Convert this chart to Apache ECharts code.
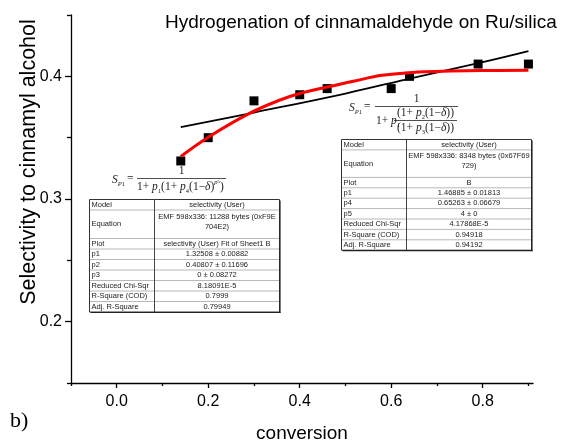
<!DOCTYPE html>
<html>
<head>
<meta charset="utf-8">
<script src="https://cdn.jsdelivr.net/npm/echarts@6/dist/echarts.min.js"></script>
<style>
  html, body { margin: 0; padding: 0; background: #fff; }
  #chart { width: 563px; height: 440px; }
</style>
</head>
<body>
<div id="chart"></div>
<script>
  // measured points
  const conversion = [0.14, 0.20, 0.30, 0.40, 0.46, 0.60, 0.64, 0.79, 0.90]
  const selectivity = [0.331, 0.350, 0.380, 0.385, 0.390, 0.390, 0.400, 0.410, 0.410]

  // red fit curve
  const redFitX = [0.14, 0.20, 0.29, 0.36, 0.40, 0.46, 0.52, 0.58, 0.66, 0.73, 0.80, 0.90]
  const redFitY = [0.3347, 0.3504, 0.3698, 0.3811, 0.3860, 0.3913, 0.3962, 0.4008, 0.4035, 0.4043, 0.4047, 0.4050]

  // black fit curve
  const blackFitX = [0.14, 0.30, 0.50, 0.65, 0.80, 0.90]
  const blackFitY = [0.3585, 0.3705, 0.3860, 0.3990, 0.4115, 0.4205]

  // ticks
  const xMajorTicks = [0, 0.2, 0.4, 0.6, 0.8]
  const xMinorTicks = [-0.1, 0.1, 0.3, 0.5, 0.7, 0.9]
  const yMajorTicks = [0.2, 0.3, 0.4]
  const yMinorTicks = [0.15, 0.25, 0.35, 0.45]

  // fit report tables
  const leftTableRows = [
    ['Model', 'selectivity (User)'],
    ['Equation', 'EMF 598x336: 11288 bytes (0xF9E\n704E2)'],
    ['Plot', 'selectivity (User) Fit of Sheet1 B'],
    ['p1', '1.32508 ± 0.00882'],
    ['p2', '0.40807 ± 0.11696'],
    ['p3', '0 ± 0.08272'],
    ['Reduced Chi-Sqr', '8.18091E-5'],
    ['R-Square (COD)', '0.7999'],
    ['Adj. R-Square', '0.79949']
  ]
  const rightTableRows = [
    ['Model', 'selectivity (User)'],
    ['Equation', 'EMF 598x336: 8348 bytes (0x67F69\n729)'],
    ['Plot', 'B'],
    ['p1', '1.46885 ± 0.01813'],
    ['p4', '0.65263 ± 0.06679'],
    ['p5', '4 ± 0'],
    ['Reduced Chi-Sqr', '4.17868E-5'],
    ['R-Square (COD)', '0.94918'],
    ['Adj. R-Square', '0.94192']
  ]

  const SANS = '"Liberation Sans", Arial, sans-serif'
  const SERIF = '"Liberation Serif", "Times New Roman", serif'

  function txt(x, y, text, font, align, vAlign, color, extra) {
    return Object.assign({
      type: 'text', x: x, y: y, silent: true,
      style: {
        text: text, font: font, fill: color || '#222',
        align: align, verticalAlign: vAlign,
        textAlign: align, textVerticalAlign: vAlign
      }
    }, extra || {})
  }
  function ln(x1, y1, x2, y2, color, width) {
    return {
      type: 'line', silent: true,
      shape: { x1: x1, y1: y1, x2: x2, y2: y2 },
      style: { stroke: color, lineWidth: width }
    }
  }

  function buildTable(x0, y0, colX, width, rowH, eqH, rows) {
    const els = []
    const x1 = x0 + width
    const heights = rows.map((r, i) => i === 1 ? eqH : rowH)
    const total = heights.reduce((a, b) => a + b, 0)
    const font = '7.5px ' + SANS
    els.push({ type: 'rect', silent: true, shape: { x: x0, y: y0, width: width, height: total }, style: { fill: '#fff' } })
    let y = y0
    rows.forEach((r, i) => {
      const h = heights[i]
      if (i > 0) els.push(ln(x0, y, x1, y, '#b8b8b8', 1))
      els.push(txt(x0 + 2, y + h / 2, r[0], font, 'left', 'middle'))
      if (i === 1) {
        els.push({
          type: 'text', x: (colX + x1) / 2, y: y + 1.5, silent: true,
          style: { text: r[1], font: font, fill: '#222', align: 'center', verticalAlign: 'top', textAlign: 'center', textVerticalAlign: 'top', lineHeight: 10 }
        })
      } else {
        els.push(txt((colX + x1) / 2, y + h / 2, r[1], font, 'center', 'middle'))
      }
      y += h
    })
    els.push(ln(colX, y0, colX, y0 + total, '#444', 1))
    els.push({ type: 'rect', silent: true, shape: { x: x0, y: y0, width: width, height: total }, style: { fill: null, stroke: '#333', lineWidth: 1 } })
    els.push(ln(x1 + 0.5, y0 + 1, x1 + 0.5, y0 + total + 1, '#222', 1.2))
    els.push(ln(x0 + 1, y0 + total + 0.5, x1 + 1, y0 + total + 0.5, '#222', 1.2))
    return els
  }

  const mathRich = {
    n: { fontFamily: SERIF, fontSize: 11.5, lineHeight: 16, verticalAlign: 'middle', color: '#222' },
    i: { fontFamily: SERIF, fontSize: 11.5, lineHeight: 16, verticalAlign: 'middle', fontStyle: 'italic', color: '#222' },
    sb: { fontFamily: SERIF, fontSize: 6.5, lineHeight: 8, verticalAlign: 'bottom', color: '#222' },
    sbi: { fontFamily: SERIF, fontSize: 6.5, lineHeight: 8, verticalAlign: 'bottom', fontStyle: 'italic', color: '#222' },
    sp: { fontFamily: SERIF, fontSize: 6.5, lineHeight: 8, verticalAlign: 'top', fontStyle: 'italic', color: '#222' },
    sps: { fontFamily: SERIF, fontSize: 5, lineHeight: 6, verticalAlign: 'top', color: '#222' }
  }
  function mth(x, y, text, align) {
    return {
      type: 'text', x: x, y: y, silent: true,
      style: { text: text, rich: mathRich, font: '11.5px ' + SERIF, fill: '#222', align: align, verticalAlign: 'middle', textAlign: align, textVerticalAlign: 'middle' }
    }
  }

  const formulaLeft = [
    mth(112, 180, '{i|S}{sbi|P}{sb|1}', 'left'),
    mth(127, 179, '{n|=}', 'left'),
    ln(137, 178.5, 226, 178.5, '#222', 0.8),
    mth(181.5, 171, '{n|1}', 'center'),
    mth(137, 187, '{n|1+ }{i|p}{sb|1}{n|(1+ }{i|p}{sb|4}{n|(1−}{i|δ}{n|)}{sp|p}{sps|5}{n|)}', 'left')
  ]
  const formulaRight = [
    mth(349, 108, '{i|S}{sbi|P}{sb|1}', 'left'),
    mth(364, 107, '{n|=}', 'left'),
    ln(375, 106.5, 458, 106.5, '#222', 0.8),
    mth(416.5, 99, '{n|1}', 'center'),
    mth(376, 120.5, '{n|1+ }{i|p}{sb|1}', 'left'),
    ln(394, 120.5, 457, 120.5, '#222', 0.8),
    mth(425.5, 113, '{n|(1+ }{i|p}{sb|2}{n|(1−}{i|δ}{n|))}', 'center'),
    mth(425.5, 127.5, '{n|(1+ }{i|p}{sb|3}{n|(1−}{i|δ}{n|))}', 'center')
  ]

  const graphics = []
    .concat(formulaLeft)
    .concat(formulaRight)
    .concat(buildTable(89.5, 199.5, 154.5, 190, 10.5, 28.5, leftTableRows))
    .concat(buildTable(341.5, 139.5, 406.5, 190, 10.4, 27.5, rightTableRows))
    .concat([
      txt(29, 162, 'Selectivity to cinnamyl alcohol', '21.5px ' + SANS, 'center', 'middle', '#000', { rotation: Math.PI / 2 }),
      txt(10, 421, 'b)', '22px ' + SERIF, 'left', 'middle', '#000')
    ])

  const axisColor = '#000'
  const chart = echarts.init(document.getElementById('chart'), null, { renderer: 'canvas' })
  chart.setOption({
    animation: false,
    backgroundColor: '#fff',
    title: {
      text: 'Hydrogenation of cinnamaldehyde on Ru/silica',
      left: 165,
      top: 13,
      padding: 0,
      textStyle: { fontFamily: SANS, fontSize: 19, fontWeight: 'normal', color: '#000' }
    },
    grid: { left: 71, right: 30, top: 15, bottom: 57, containLabel: false, outerBoundsMode: 'none' },
    xAxis: [{
      type: 'value',
      min: -0.1,
      max: 0.91,
      name: 'conversion',
      nameLocation: 'middle',
      nameGap: 41,
      nameTextStyle: { fontFamily: SANS, fontSize: 19, color: '#000' },
      axisLine: { show: true, onZero: false, lineStyle: { color: axisColor, width: 1.3 } },
      axisTick: { show: true, length: 5, customValues: xMajorTicks, lineStyle: { color: axisColor, width: 1.3 } },
      axisLabel: { customValues: xMajorTicks, margin: 11, fontFamily: SANS, fontSize: 16, color: '#000', formatter: v => v.toFixed(1) },
      splitLine: { show: false }
    }, {
      type: 'value',
      min: -0.1,
      max: 0.91,
      position: 'bottom',
      axisLine: { show: false, onZero: false },
      axisTick: { show: true, length: 3, customValues: xMinorTicks, lineStyle: { color: axisColor, width: 1.3 } },
      axisLabel: { show: false },
      splitLine: { show: false }
    }],
    yAxis: [{
      type: 'value',
      min: 0.15,
      max: 0.45,
      axisLine: { show: true, onZero: false, lineStyle: { color: axisColor, width: 1.3 } },
      axisTick: { show: true, length: 6, customValues: yMajorTicks, lineStyle: { color: axisColor, width: 1.3 } },
      axisLabel: { customValues: yMajorTicks, margin: 9, fontFamily: SANS, fontSize: 16, color: '#000', formatter: v => v.toFixed(1) },
      splitLine: { show: false }
    }, {
      type: 'value',
      min: 0.15,
      max: 0.45,
      position: 'left',
      axisLine: { show: false, onZero: false },
      axisTick: { show: true, length: 4, customValues: yMinorTicks, lineStyle: { color: axisColor, width: 1.3 } },
      axisLabel: { show: false },
      splitLine: { show: false }
    }],
    series: [{
      type: 'scatter',
      symbol: 'rect',
      symbolSize: 9,
      itemStyle: { color: '#000', opacity: 1 },
      data: conversion.map((x, i) => [x, selectivity[i]]),
      z: 2
    }, {
      type: 'line',
      smooth: 0.4,
      showSymbol: false,
      lineStyle: { color: '#000', width: 1.8 },
      data: blackFitX.map((x, i) => [x, blackFitY[i]]),
      z: 3
    }, {
      type: 'line',
      smooth: 0.4,
      showSymbol: false,
      lineStyle: { color: '#ff0000', width: 3 },
      data: redFitX.map((x, i) => [x, redFitY[i]]),
      z: 4
    }],
    graphic: graphics
  })
</script>
</body>
</html>
